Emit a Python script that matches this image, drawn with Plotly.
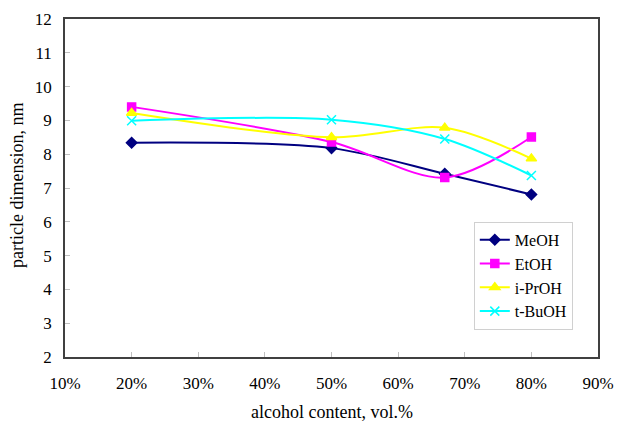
import plotly.graph_objects as go

alcohol_content = [20, 50, 67, 80]
meoh = [8.34, 8.18, 7.42, 6.81]
etoh = [9.40, 8.36, 7.31, 8.51]
iproh = [9.22, 8.50, 8.78, 7.87]
tbuoh = [8.99, 9.02, 8.45, 7.37]
x_ticks = [10, 20, 30, 40, 50, 60, 70, 80, 90]
x_labels = [f"{v}%" for v in x_ticks]
y_ticks = list(range(2, 13))

series = [
    ("MeOH", meoh, "#000080", "diamond", 8),
    ("EtOH", etoh, "#FF00FF", "square", 8),
    ("i-PrOH", iproh, "#FFFF00", "triangle-up", 9),
    ("t-BuOH", tbuoh, "#00FFFF", "x-thin-open", 9),
]

fig = go.Figure()
for name, vals, color, sym, size in series:
    fig.add_trace(go.Scatter(
        x=alcohol_content, y=vals, name=name, mode="lines+markers",
        line=dict(color=color, width=2, shape="spline", smoothing=0.9),
        marker=dict(symbol=sym, size=size, color=color,
                    line=dict(color=color, width=1.5)),
    ))

font = "Liberation Serif, Times New Roman, serif"
fig.update_layout(
    width=617, height=424,
    margin=dict(l=65, r=19, t=19, b=67, autoexpand=False),
    paper_bgcolor="white", plot_bgcolor="white",
    font=dict(family=font, size=17, color="black"),
    showlegend=True,
    legend=dict(x=0.767, y=0.40, xanchor="left", yanchor="top",
                bordercolor="#d0d0d0", borderwidth=1, bgcolor="white",
                font=dict(family=font, size=16), tracegroupgap=0,
                itemwidth=30),
    annotations=[
        dict(text="alcohol content, vol.%", xref="paper", yref="paper",
             x=0.5, y=-0.163, xanchor="center", yanchor="middle",
             showarrow=False, font=dict(family=font, size=18)),
        dict(text="particle dimension, nm", xref="paper", yref="paper",
             x=-0.09, y=0.506, xanchor="center", yanchor="middle",
             textangle=-90, showarrow=False, font=dict(family=font, size=18)),
    ],
)
fig.update_xaxes(
    range=[10, 90], tickvals=x_ticks, ticktext=x_labels,
    tickfont=dict(family=font, size=17), automargin=False,
    showgrid=False, zeroline=False,
    showline=True, linecolor="#404040", linewidth=1.5, mirror=True,
    ticks="inside", ticklen=5, tickcolor="#c0c0c0",
    ticklabelstandoff=10,
)
fig.update_yaxes(
    range=[2, 12], tickvals=y_ticks,
    tickfont=dict(family=font, size=17), automargin=False,
    showgrid=False, zeroline=False,
    showline=True, linecolor="#404040", linewidth=1.5, mirror=True,
    ticks="inside", ticklen=5, tickcolor="#c0c0c0",
    ticklabelstandoff=8,
)
fig.write_html(
    "out.html",
    config={"displayModeBar": False},
    post_script="document.body.style.margin='0';document.body.style.overflow='hidden';",
)
